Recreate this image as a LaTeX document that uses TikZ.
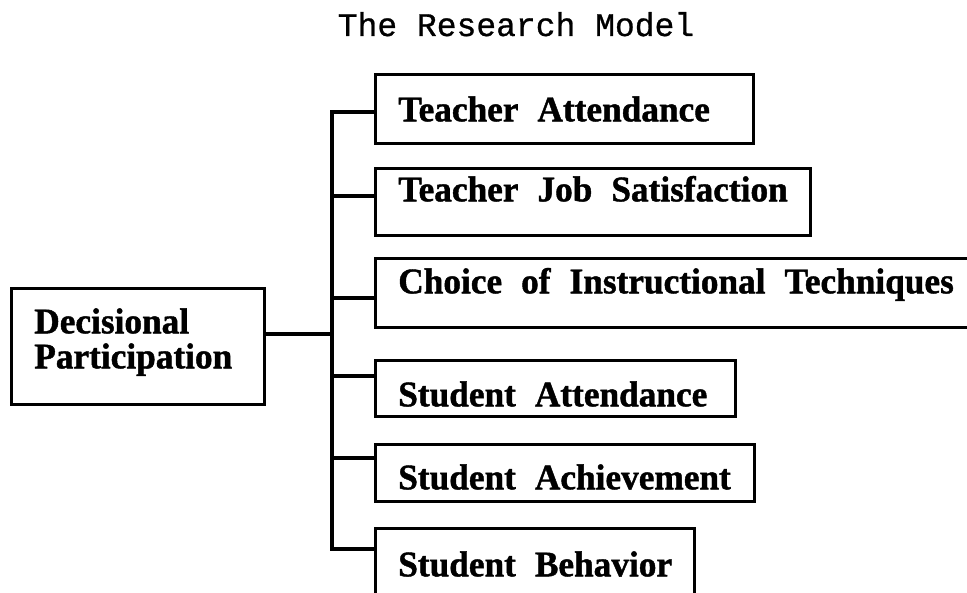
\documentclass[tikz,border=0pt]{standalone}
\usepackage{fontspec}
\newfontfamily\boxfont[FakeStretch=0.98,FakeBold=1.2]{Liberation Serif}
\newfontfamily\titlefont[FakeBold=0.8]{Liberation Mono}
\newcommand\widewords{\spaceskip=19pt plus 2pt minus 1pt\relax\hyphenpenalty=10000\relax}
\begin{document}
\begin{tikzpicture}[x=1pt,y=-1pt,
  box/.style={draw, line width=2.6pt, anchor=north west, inner xsep=23pt,
    inner ysep=0pt, align=left,
    font=\boxfont\bfseries\fontsize{36}{35}\selectfont,
    execute at begin node=\widewords},
  link/.style={line width=3.2pt},
  heading/.style={anchor=base, inner sep=0pt,
    font=\titlefont\fontsize{33}{36}\selectfont}]
\useasboundingbox (0,0) rectangle (967,593);
\clip (0,0) rectangle (967,593);

% title
\node[heading] (title) at (516,36) {The Research Model};

% independent variable
\node[box, minimum width=253pt, minimum height=116pt, text width=207pt,
  text height=45pt, text depth=71pt] (dp) at (10,287)
  {Decisional\\Participation};

% dependent variables (each label kept on one line)
\node[box, minimum width=378pt, minimum height=69pt, text width=332pt,
  text height=47pt, text depth=22pt] (ta) at (374,73)
  {\mbox{Teacher Attendance}};
\node[box, minimum width=435pt, minimum height=67pt, text width=389pt,
  text height=33pt, text depth=34pt] (tj) at (374,167)
  {\mbox{Teacher Job Satisfaction}};
\node[box, minimum width=626pt, minimum height=69pt, text width=580pt,
  text height=35pt, text depth=34pt] (ci) at (374,257)
  {\mbox{Choice of Instructional Techniques}};
\node[box, minimum width=360pt, minimum height=56pt, text width=314pt,
  text height=46pt, text depth=10pt] (sa) at (374,359)
  {\mbox{Student Attendance}};
\node[box, minimum width=379pt, minimum height=57pt, text width=333pt,
  text height=45pt, text depth=12pt] (sc) at (374,443)
  {\mbox{Student Achievement}};
\node[box, minimum width=319pt, minimum height=103pt, text width=273pt,
  text height=48pt, text depth=55pt] (sb) at (374,527)
  {\mbox{Student Behavior}};

% branch points on the vertical trunk
\coordinate (j)  at (332,334);
\coordinate (b1) at (332,112);
\coordinate (b2) at (332,196);
\coordinate (b3) at (332,298);
\coordinate (b4) at (332,376);
\coordinate (b5) at (332,458);
\coordinate (b6) at (332,549);

% connectors
\draw[link] (b1 -| ta.west) -- (b1) -- (b6) -- (b6 -| sb.west);
\draw[link] (b2) -- (b2 -| tj.west);
\draw[link] (b3) -- (b3 -| ci.west);
\draw[link] (b4) -- (b4 -| sa.west);
\draw[link] (b5) -- (b5 -| sc.west);
\draw[link] (dp.east |- j) -- (j);
\end{tikzpicture}
\end{document}
